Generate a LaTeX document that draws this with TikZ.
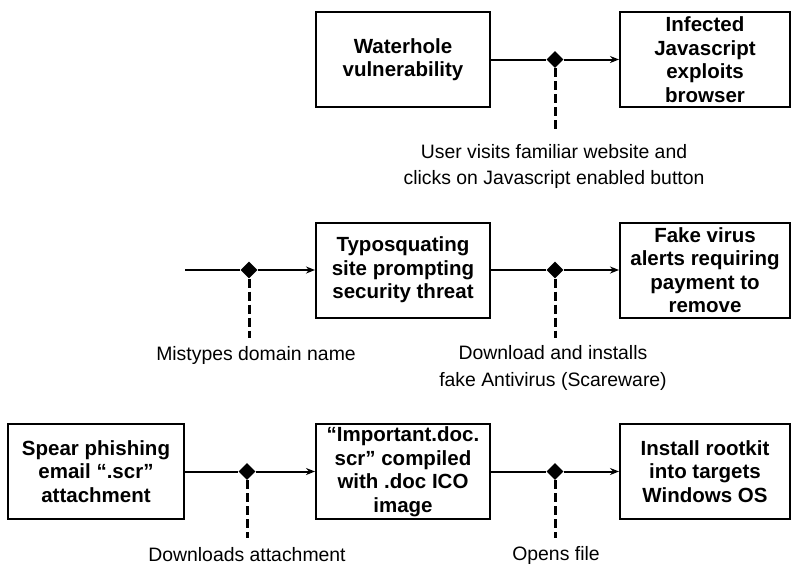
\documentclass[tikz,border=0pt]{standalone}
\usepackage{fontspec}
\setmainfont{Liberation Sans}
\usetikzlibrary{shapes.geometric,arrows.meta}

\tikzset{
  stagebox/.style={draw, line width=2pt, align=center, inner sep=0pt,
    minimum height=95pt, font=\fontsize{20.5}{23.5}\selectfont\bfseries},
  joint/.style={diamond, fill=black, inner sep=0pt, minimum size=17pt},
  flow/.style={line width=2pt, -{Stealth[length=9pt,width=7pt]}},
  plainline/.style={line width=2pt},
  cue/.style={line width=3pt, dash pattern=on 9pt off 4pt},
  caption/.style={align=center, inner sep=0pt,
    font=\fontsize{19.4}{26.5}\selectfont}
}

\begin{document}
\begin{tikzpicture}[x=1pt, y=-1pt]
\useasboundingbox (0,0) rectangle (792,566);

% ---- watering-hole path ----
\node[stagebox, minimum width=174pt] (water) at (403,59.5) {Waterhole\\vulnerability};
\node[stagebox, minimum width=170pt] (infect) at (705,59.5) {Infected\\Javascript\\exploits\\browser};
\node[joint] (j1) at (555,59.5) {};
\coordinate (e1) at (555,132);
\draw[plainline] (water.east) -- (j1.west);
\draw[flow] (j1.east) -- (infect.west);
\draw[cue] (j1.south) -- (e1);
\node[caption] (c1) at (554,166.5) {User visits familiar website and\\clicks on Javascript enabled button};

% ---- typosquatting path ----
\coordinate (start2) at (185,270);
\node[stagebox, minimum width=174pt] (typo) at (403,270) {Typosquating\\site prompting\\security threat};
\node[stagebox, minimum width=170pt] (fake) at (705,270) {Fake virus\\alerts requiring\\payment to\\remove};
\node[joint] (j2) at (249,270) {};
\node[joint] (j3) at (555,270) {};
\coordinate (e2) at (249,338);
\coordinate (e3) at (555,338);
\draw[plainline] (start2) -- (j2.west);
\draw[flow] (j2.east) -- (typo.west);
\draw[plainline] (typo.east) -- (j3.west);
\draw[flow] (j3.east) -- (fake.west);
\draw[cue] (j2.south) -- (e2);
\draw[cue] (j3.south) -- (e3);
\node[caption] (c2) at (256,355) {Mistypes domain name};
\node[caption] (c3) at (553,368) {Download and installs\\fake Antivirus (Scareware)};

% ---- spear-phishing path ----
\node[stagebox, minimum width=176pt] (spear) at (96,471.5) {Spear phishing\\email “.scr”\\attachment};
\node[stagebox, minimum width=174pt] (doc) at (403,471.5) {“Important.doc.\\scr” compiled\\with .doc ICO\\image};
\node[stagebox, minimum width=170pt] (root) at (705,471.5) {Install rootkit\\into targets\\Windows OS};
\node[joint] (j4) at (247,471.5) {};
\node[joint] (j5) at (555,471.5) {};
\coordinate (e4) at (247,538);
\coordinate (e5) at (555,538);
\draw[plainline] (spear.east) -- (j4.west);
\draw[flow] (j4.east) -- (doc.west);
\draw[plainline] (doc.east) -- (j5.west);
\draw[flow] (j5.east) -- (root.west);
\draw[cue] (j4.south) -- (e4);
\draw[cue] (j5.south) -- (e5);
\node[caption] (c4) at (247,555) {Downloads attachment};
\node[caption] (c5) at (556,555) {Opens file};
\end{tikzpicture}
\end{document}
